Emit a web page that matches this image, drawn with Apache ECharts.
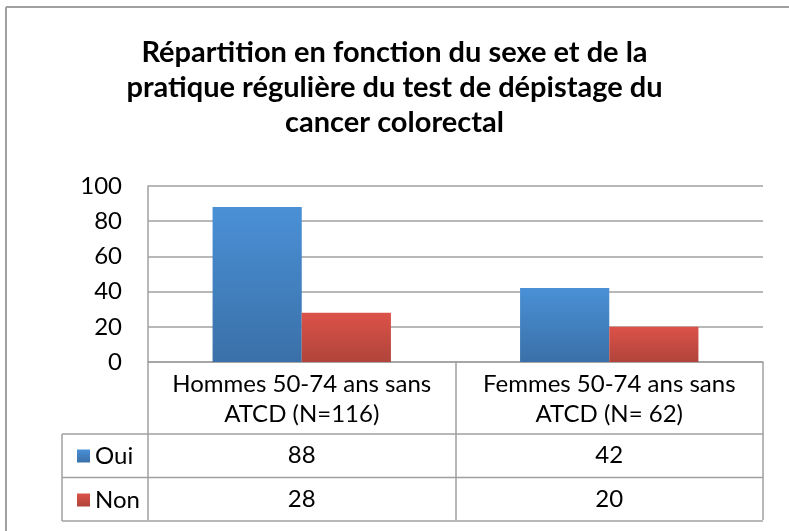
<!DOCTYPE html>
<html>
<head>
<meta charset="utf-8">
<script src="https://cdn.jsdelivr.net/npm/echarts@6/dist/echarts.min.js"></script>
<style>
  html, body { margin: 0; padding: 0; background: #fff; }
  #chart { width: 789px; height: 531px; }
</style>
</head>
<body>
<div id="chart"></div>
<script>
var titleLines = ['Répartition en fonction du sexe et de la', 'pratique régulière du test de dépistage du', 'cancer colorectal']
var categories = ['Hommes 50-74 ans sans\nATCD (N=116)', 'Femmes 50-74 ans sans\nATCD (N= 62)']
var seriesNames = ['Oui', 'Non']
var ouiValues = [88, 42]
var nonValues = [28, 20]
var yTicks = [0, 20, 40, 60, 80, 100]

var FONT = 'Lato, "Open Sans", sans-serif'
var GRAY = '#a0a0a0'

var blue = new echarts.graphic.LinearGradient(0, 0, 0, 1, [
  { offset: 0, color: '#4a90d6' },
  { offset: 1, color: '#3a70a8' }
])
var red = new echarts.graphic.LinearGradient(0, 0, 0, 1, [
  { offset: 0, color: '#dc5249' },
  { offset: 1, color: '#b0443b' }
])

var chart = echarts.init(document.getElementById('chart'))

function barSeries (name, values, color) {
  return {
    name: name,
    type: 'bar',
    data: values,
    barGap: '0%',
    barCategoryGap: '42%',
    itemStyle: {
      color: color,
      shadowBlur: 4,
      shadowOffsetX: 2,
      shadowOffsetY: 1,
      shadowColor: 'rgba(0,0,0,0.25)'
    }
  }
}

chart.setOption({
  animation: false,
  textStyle: { fontFamily: FONT },
  title: {
    text: titleLines.join('\n'),
    left: 'center',
    top: 35,
    padding: 0,
    textStyle: { fontFamily: FONT, fontSize: 29, fontWeight: 'bold', color: '#000', lineHeight: 35 }
  },
  legend: {
    orient: 'vertical',
    left: 72,
    top: 439,
    itemWidth: 13,
    itemHeight: 13,
    itemGap: 20,
    icon: 'rect',
    selectedMode: false,
    textStyle: { fontFamily: FONT, fontSize: 24, lineHeight: 24, color: '#000', padding: [0, 0, 0, 0] },
    data: seriesNames
  },
  grid: { left: 148, right: 26, top: 186, bottom: 169 },
  xAxis: {
    type: 'category',
    data: categories,
    axisLine: { show: true, lineStyle: { color: GRAY, width: 1.5 } },
    axisTick: { show: true, length: 158, interval: 0, lineStyle: { color: GRAY, width: 1.5 } },
    axisLabel: { fontFamily: FONT, fontSize: 24, color: '#000', lineHeight: 30, margin: 7, interval: 0 }
  },
  yAxis: {
    type: 'value',
    min: yTicks[0],
    max: yTicks[yTicks.length - 1],
    interval: yTicks[1] - yTicks[0],
    axisLine: { show: true, lineStyle: { color: GRAY, width: 1.5 } },
    axisTick: { show: false },
    axisLabel: { fontFamily: FONT, fontSize: 24, color: '#000', margin: 26 },
    splitLine: { lineStyle: { color: GRAY, width: 1.5 } }
  },
  series: [
    barSeries(seriesNames[0], ouiValues, blue),
    barSeries(seriesNames[1], nonValues, red)
  ]
})

// data table below the axis, placed from the grid's own scales
var x1 = 763
var yZero = chart.convertToPixel({ yAxisIndex: 0 }, 0)
var rowTop = yZero + 72
var rowH = 43.5
var tableLeft = 62
var rows = [ouiValues, nonValues]
var graphics = []
var lineStyle = { stroke: GRAY, lineWidth: 1.5 }

for (var r = 0; r <= rows.length; r++) {
  var y = rowTop + r * rowH
  graphics.push({ type: 'line', shape: { x1: tableLeft, y1: y, x2: x1, y2: y }, style: lineStyle })
}
graphics.push({ type: 'line', shape: { x1: tableLeft, y1: rowTop, x2: tableLeft, y2: rowTop + rows.length * rowH }, style: lineStyle })

rows.forEach(function (vals, r) {
  vals.forEach(function (v, i) {
    graphics.push({
      type: 'text',
      x: chart.convertToPixel({ xAxisIndex: 0 }, i),
      y: rowTop + r * rowH + rowH / 2,
      style: { text: String(v), fontFamily: FONT, fontSize: 24, fill: '#000', align: 'center', verticalAlign: 'middle' }
    })
  })
})

// outer chart frame (top and left edges visible)
graphics.push({ type: 'line', shape: { x1: 6, y1: 7, x2: 789, y2: 7 }, style: { stroke: GRAY, lineWidth: 2 } })
graphics.push({ type: 'line', shape: { x1: 6, y1: 7, x2: 6, y2: 531 }, style: { stroke: GRAY, lineWidth: 2 } })

chart.setOption({ graphic: graphics })
</script>
</body>
</html>
